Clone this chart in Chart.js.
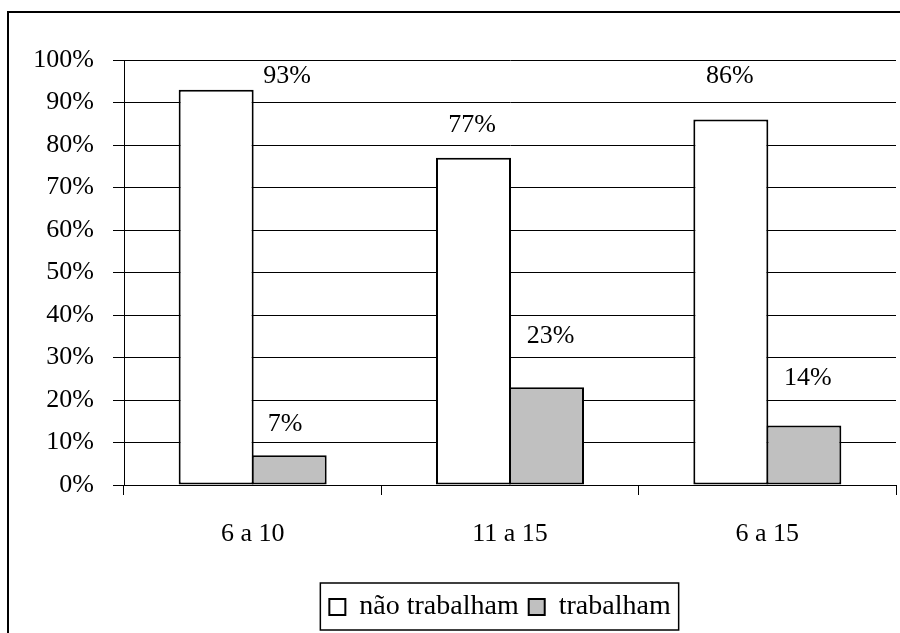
<!DOCTYPE html>
<html>
<head>
<meta charset="utf-8">
<script src="https://cdn.jsdelivr.net/npm/chart.js@4/dist/chart.umd.min.js"></script>
<style>
  html, body { margin: 0; padding: 0; background: #fff; }
  canvas { display: block; }
</style>
</head>
<body>
<canvas id="c" width="900" height="633"></canvas>
<script>
// Age groups and shares of children who do / do not work
const categories = ['6 a 10', '11 a 15', '6 a 15'];
const naoTrabalham = [93, 77, 86];
const trabalham = [7, 23, 14];
const seriesNames = ['não trabalham', 'trabalham'];

// Value label offsets (px) from the top centre of each bar
const labelOffsets = [
  [[71, -14], [-1.5, -33], [-1, -43]],
  [[-4, -31], [4, -51], [4, -47]]
];

// Horizontal shift of the legend row (px)
const LEGEND_SHIFT = 42;

const FONT = "'Liberation Serif', 'Times New Roman', serif";
Chart.defaults.font.family = FONT;
Chart.defaults.color = '#000';

const framePlugin = {
  id: 'frame',
  beforeDraw(chart) {
    const ctx = chart.ctx;
    ctx.save();
    ctx.fillStyle = '#fff';
    ctx.fillRect(0, 0, chart.width, chart.height);
    ctx.strokeStyle = '#000';
    ctx.lineWidth = 2;
    ctx.strokeRect(8, 12, 1200, 1200);
    ctx.restore();
  }
};

const valueLabels = {
  id: 'valueLabels',
  afterDatasetsDraw(chart) {
    const ctx = chart.ctx;
    ctx.save();
    ctx.font = '26px ' + FONT;
    ctx.fillStyle = '#000';
    ctx.textAlign = 'center';
    ctx.textBaseline = 'middle';
    chart.data.datasets.forEach((ds, di) => {
      chart.getDatasetMeta(di).data.forEach((bar, i) => {
        const off = labelOffsets[di][i];
        ctx.fillText(ds.data[i] + '%', bar.x + off[0], bar.y + off[1]);
      });
    });
    ctx.restore();
  }
};

// Moves the legend row sideways and draws a frame around it
const legendFrame = {
  id: 'legendFrame',
  afterUpdate(chart) {
    const lg = chart.legend;
    if (!lg) return;
    lg.left += LEGEND_SHIFT;
    lg.right += LEGEND_SHIFT;
    (lg.legendHitBoxes || []).forEach(h => { h.left += LEGEND_SHIFT; });
  },
  afterDraw(chart) {
    const lg = chart.legend;
    if (!lg || !lg.legendHitBoxes || !lg.legendHitBoxes.length) return;
    const hb = lg.legendHitBoxes;
    const first = hb[0], last = hb[hb.length - 1];
    const x0 = first.left - 9, x1 = last.left + last.width + 8;
    const ctx = chart.ctx;
    ctx.save();
    ctx.strokeStyle = '#000';
    ctx.lineWidth = 1.5;
    ctx.strokeRect(x0, lg.top, x1 - x0, lg.bottom - lg.top - 1);
    ctx.restore();
  }
};

new Chart(document.getElementById('c'), {
  type: 'bar',
  data: {
    labels: categories,
    datasets: [
      {
        label: seriesNames[0],
        data: naoTrabalham,
        backgroundColor: '#ffffff',
        borderColor: '#000000',
        borderWidth: 2,
        borderSkipped: false
      },
      {
        label: seriesNames[1],
        data: trabalham,
        backgroundColor: '#c0c0c0',
        borderColor: '#000000',
        borderWidth: 2,
        borderSkipped: false
      }
    ]
  },
  options: {
    responsive: false,
    animation: false,
    events: [],
    layout: { padding: { left: 20, right: 4, top: 60, bottom: 2 } },
    datasets: {
      // adjacent bars overlap slightly so they share one outline
      bar: { barPercentage: 1.0274, categoryPercentage: 0.5674 }
    },
    scales: {
      x: {
        grid: {
          offset: true,
          drawOnChartArea: false,
          drawTicks: true,
          tickLength: 10,
          color: '#000'
        },
        border: { color: '#000', width: 1 },
        ticks: { font: { size: 26 }, color: '#000', padding: 24, maxRotation: 0 },
        afterFit(scale) { scale.height = 98; }
      },
      y: {
        min: 0,
        max: 100,
        grid: { color: '#000', lineWidth: 1, tickLength: 11 },
        border: { color: '#000', width: 1 },
        ticks: {
          stepSize: 10,
          font: { size: 26 },
          color: '#000',
          padding: 19,
          callback: v => v + '%'
        },
        afterFit(scale) { scale.width = 104; }
      }
    },
    plugins: {
      legend: {
        position: 'bottom',
        labels: {
          boxWidth: 16,
          boxHeight: 16,
          padding: 10,
          color: '#000',
          font: { size: 28 }
        }
      },
      tooltip: { enabled: false }
    }
  },
  plugins: [framePlugin, valueLabels, legendFrame]
});
</script>
</body>
</html>
